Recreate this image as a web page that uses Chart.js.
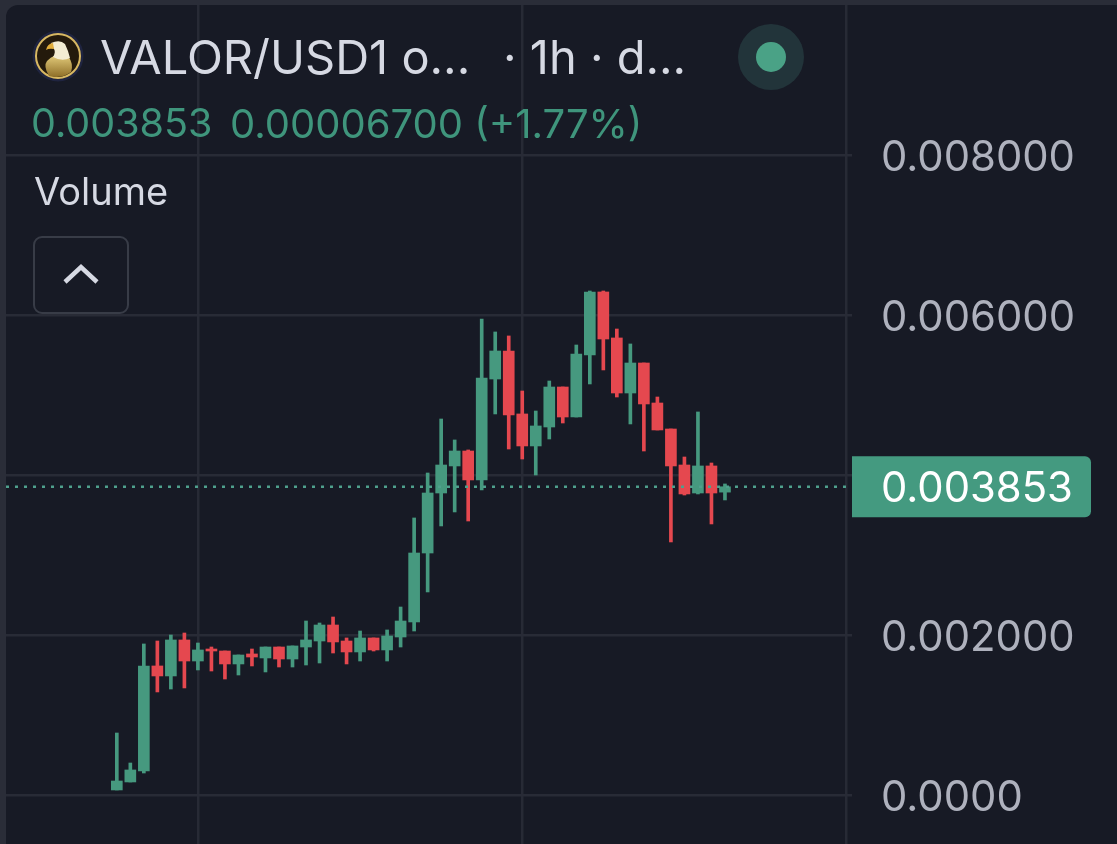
<!DOCTYPE html>
<html>
<head>
<meta charset="utf-8">
<title>VALOR/USD1</title>
<script src="https://cdn.jsdelivr.net/npm/chart.js@4/dist/chart.umd.min.js"></script>
<style>
    html, body { margin: 0; padding: 0; background: #2a2d38; width: 1117px; height: 844px; overflow: hidden; }
    body { position: relative; font-family: Inter, "Noto Sans", sans-serif; }
    #card { position: absolute; left: 6px; top: 5px; width: 1111px; height: 839px; background: #171a25; border-top-left-radius: 12px; }
    #priceChart { position: absolute; left: 0; top: 0; }
    .txt { position: absolute; white-space: pre; line-height: 1; }
    #title { left: 100px; top: 33px; font-size: 47px; color: #d6d9e3; }
    #interval { left: 503px; top: 33px; font-size: 47px; color: #d6d9e3; }
    #lastOpen { left: 31px; top: 104px; font-size: 39.5px; color: #3f957c; }
    #lastChange { left: 230px; top: 104px; font-size: 40px; color: #3f957c; }
    #volume { left: 34px; top: 172px; font-size: 38px; color: #d6d9e3; }
    #toggle { position: absolute; left: 33px; top: 236px; width: 92px; height: 74px; border: 2.5px solid #383c47; border-radius: 9px; }
    #logo, #status, #chevron { position: absolute; }
</style>
</head>
<body>
<div id="card"></div>
<canvas id="priceChart" width="1117" height="844"></canvas>

<svg id="logo" style="left:32px;top:30px" width="52" height="52" viewBox="0 0 52 52">
    <defs>
        <linearGradient id="gold" x1="0" y1="0" x2="0" y2="1">
            <stop offset="0" stop-color="#e0c878"/>
            <stop offset="1" stop-color="#8f6f28"/>
        </linearGradient>
    </defs>
    <circle cx="26" cy="26" r="25.5" fill="#1f2440"/>
    <circle cx="26" cy="26" r="22" fill="#241a0c" stroke="#d8b862" stroke-width="2"/>
    <path d="M17 46 Q11 36 15 31 Q19 27 22 26 L36 26 Q42 34 39 42 Q30 49 17 46 Z" fill="url(#gold)"/>
    <path d="M19 13 Q28 9 33 14 Q36 20 38 28 Q30 32 21 27 Q24 22 22 19 Z" fill="#f3ecd2"/>
    <path d="M21 13 Q15 14 14 20 Q17 18 22 19 Z" fill="#e0ac3a"/>
</svg>
<div id="title" class="txt">VALOR/USD1 o...</div>
<div id="interval" class="txt">· 1h · d...</div>
<svg id="status" style="left:738px;top:24px" width="66" height="66" viewBox="0 0 66 66">
    <circle cx="33" cy="33" r="33" fill="#22343a"/>
    <circle cx="33" cy="33" r="15" fill="#4aa286"/>
</svg>
<div id="lastOpen" class="txt">0.003853</div>
<div id="lastChange" class="txt">0.00006700 (+1.77%)</div>
<div id="volume" class="txt">Volume</div>
<div id="toggle"></div>
<svg id="chevron" style="left:62px;top:262px" width="38" height="24" viewBox="0 0 38 24">
    <polyline points="3,20 19,5 35,20" fill="none" stroke="#d6d9e3" stroke-width="4.5"/>
</svg>

<script>
// 1h candles
const opens = [0.000063, 0.000163, 0.000300, 0.001613, 0.001488, 0.001938, 0.001675, 0.001825, 0.001800, 0.001638,
    0.001763, 0.001713, 0.001850, 0.001700, 0.001850, 0.001925, 0.002125, 0.001925, 0.001788, 0.001963,
    0.001813, 0.001975, 0.002163, 0.003025, 0.003775, 0.004113, 0.004300, 0.003938, 0.005200, 0.005550,
    0.004763, 0.004363, 0.004600, 0.005100, 0.004725, 0.005500, 0.006288, 0.005713, 0.005025, 0.005400,
    0.004900, 0.004575, 0.004125, 0.003775, 0.004113, 0.003786];
const closes = [0.000175, 0.000313, 0.001613, 0.001488, 0.001938, 0.001675, 0.001813, 0.001800, 0.001638, 0.001750,
    0.001725, 0.001850, 0.001700, 0.001863, 0.001938, 0.002125, 0.001913, 0.001788, 0.001963, 0.001813,
    0.001988, 0.002175, 0.003025, 0.003775, 0.004125, 0.004300, 0.003938, 0.005213, 0.005550, 0.004750,
    0.004363, 0.004613, 0.005100, 0.004725, 0.005513, 0.006288, 0.005700, 0.005025, 0.005400, 0.004888,
    0.004563, 0.004113, 0.003763, 0.004113, 0.003775, 0.003853];
const highs = [0.000775, 0.000400, 0.001888, 0.001925, 0.002000, 0.002025, 0.001900, 0.001850, 0.001800, 0.001750,
    0.001825, 0.001850, 0.001850, 0.001863, 0.002175, 0.002150, 0.002225, 0.001963, 0.002050, 0.001963,
    0.002063, 0.002350, 0.003463, 0.004025, 0.004700, 0.004438, 0.004313, 0.005950, 0.005788, 0.005738,
    0.005050, 0.004800, 0.005175, 0.005100, 0.005625, 0.006300, 0.006300, 0.005825, 0.005638, 0.005400,
    0.004975, 0.004575, 0.004225, 0.004788, 0.004150, 0.003888];
const lows = [0.000063, 0.000163, 0.000275, 0.001288, 0.001325, 0.001338, 0.001563, 0.001550, 0.001450, 0.001500,
    0.001613, 0.001538, 0.001600, 0.001600, 0.001625, 0.001650, 0.001775, 0.001638, 0.001675, 0.001800,
    0.001675, 0.001850, 0.002050, 0.002538, 0.003363, 0.003538, 0.003425, 0.003813, 0.004763, 0.004325,
    0.004200, 0.004000, 0.004450, 0.004650, 0.004725, 0.005138, 0.005313, 0.004975, 0.004638, 0.004300,
    0.004563, 0.003163, 0.003750, 0.003763, 0.003388, 0.003688];

const yTicks = [0, 0.002, 0.004, 0.006, 0.008];
const yTickLabels = ['0.0000', '0.002000', '', '0.006000', '0.008000'];
const xTicks = [6, 30, 54];
const lastPrice = 0.003853;
const lastPriceLabel = '0.003853';

const GREEN = '#46997f';
const RED = '#e5484f';
const X_MIN = -8.2, X_MAX = 54.4;

const candleColors = opens.map((o, i) => closes[i] >= o ? GREEN : RED);

// green tag over the axis for the last price
const lastPriceTag = {
    id: 'lastPriceTag',
    afterDraw(chart) {
        const y = chart.scales.y.getPixelForValue(lastPrice);
        const ctx = chart.ctx;
        ctx.save();
        ctx.fillStyle = '#449a80';
        ctx.beginPath();
        ctx.roundRect(chart.chartArea.right, y - 30.5, 239, 61, [0, 6, 6, 0]);
        ctx.fill();
        ctx.fillStyle = '#ffffff';
        ctx.font = '41.8px Inter';
        ctx.textBaseline = 'middle';
        ctx.fillText(lastPriceLabel, 881, y + 3);
        ctx.restore();
    }
};

new Chart(document.getElementById('priceChart').getContext('2d'), {
    type: 'bar',
    data: {
        datasets: [
            {
                type: 'line',
                data: [{ x: X_MIN, y: lastPrice }, { x: X_MAX, y: lastPrice }],
                borderColor: '#4fa08d',
                borderWidth: 2.5,
                borderDash: [3, 6],
                pointRadius: 0,
                order: 0
            },
            {
                data: opens.map((o, i) => ({ x: i, y: [o, closes[i]] })),
                backgroundColor: candleColors,
                barThickness: 11,
                grouped: false,
                order: 1
            },
            {
                data: opens.map((o, i) => ({ x: i, y: [lows[i], highs[i]] })),
                backgroundColor: candleColors,
                barThickness: 3,
                grouped: false,
                order: 2
            }
        ]
    },
    options: {
        responsive: false,
        animation: false,
        layout: { padding: { left: 6, top: 5, right: 0, bottom: 0 } },
        plugins: { legend: { display: false }, tooltip: { enabled: false } },
        scales: {
            x: {
                type: 'linear',
                offset: false,
                min: X_MIN,
                max: X_MAX,
                border: { display: false },
                grid: { offset: false, color: '#272a35', lineWidth: 2.5, drawTicks: false },
                ticks: { display: false },
                afterBuildTicks: scale => { scale.ticks = xTicks.map(v => ({ value: v })); }
            },
            y: {
                position: 'right',
                min: -0.0006125,
                max: 0.009875,
                border: { display: false },
                grid: { color: '#282b36', lineWidth: 2.5, drawTicks: false },
                ticks: {
                    color: '#aeb1bd',
                    font: { family: 'Inter', size: 41.8 },
                    padding: 29,
                    labelOffset: 3,
                    callback: value => yTickLabels[yTicks.indexOf(value)]
                },
                afterBuildTicks: scale => { scale.ticks = yTicks.map(v => ({ value: v })); },
                afterFit: scale => {
                    scale.width = 265;
                    scale.paddingTop = 0;
                    scale.paddingBottom = 0;
                }
            }
        }
    },
    plugins: [lastPriceTag]
});
</script>
</body>
</html>
